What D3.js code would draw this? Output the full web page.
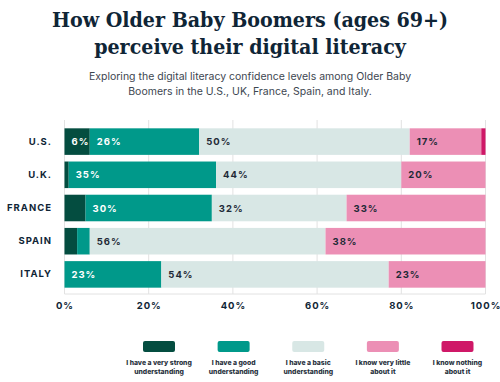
<!DOCTYPE html>
<html><head><meta charset="utf-8">
<script src="https://cdn.jsdelivr.net/npm/d3@7/dist/d3.min.js"></script>
<style>body{margin:0;background:#fff;}svg{display:block;}</style>
</head><body>
<svg id="chart" width="500" height="382"></svg>
<script>
const countries = ["U.S.", "U.K.", "FRANCE", "SPAIN", "ITALY"];
const seriesNames = ["I have a very strong understanding", "I have a good understanding", "I have a basic understanding", "I know very little about it", "I know nothing about it"];
const legendLines = [["I have a very strong", "understanding"], ["I have a good", "understanding"], ["I have a basic", "understanding"], ["I know very little", "about it"], ["I know nothing", "about it"]];
const veryStrong = [6, 1, 5, 3, 0];
const good = [26, 35, 30, 3, 23];
const basic = [50, 44, 32, 56, 54];
const veryLittle = [17, 20, 33, 38, 23];
const nothing = [1, 0, 0, 0, 0];
const xTicks = [0, 20, 40, 60, 80, 100];
const colors = ["#044d40", "#00998a", "#d8e7e5", "#ec8fb5", "#cf1867"];
const labelColors = ["#ffffff", "#ffffff", "#1f2a37", "#1f2a37", "#ffffff"];

const seriesData = [veryStrong, good, basic, veryLittle, nothing];
const rows = countries.map((c, i) => {
  const r = {country: c};
  seriesNames.forEach((s, j) => r[s] = seriesData[j][i]);
  return r;
});
const stack = d3.stack().keys(seriesNames)(rows);

const svg = d3.select("#chart");
const navy = "#0f2536";
const titleFont = "'DejaVu Serif Condensed', 'DejaVu Serif', serif";

svg.append("text").attr("x", 250).attr("y", 27).attr("text-anchor", "middle")
  .attr("font-family", titleFont).attr("font-weight", "bold").attr("font-size", 21.2)
  .attr("fill", navy).text("How Older Baby Boomers (ages 69+)");
svg.append("text").attr("x", 250).attr("y", 54).attr("text-anchor", "middle")
  .attr("font-family", titleFont).attr("font-weight", "bold").attr("font-size", 21.2)
  .attr("fill", navy).text("perceive their digital literacy");
svg.append("text").attr("x", 250).attr("y", 80).attr("text-anchor", "middle")
  .attr("font-family", "Inter").attr("font-size", 10.5).attr("fill", "#3d4650")
  .text("Exploring the digital literacy confidence levels among Older Baby");
svg.append("text").attr("x", 250).attr("y", 95).attr("text-anchor", "middle")
  .attr("font-family", "Inter").attr("font-size", 10.5).attr("fill", "#3d4650")
  .text("Boomers in the U.S., UK, France, Spain, and Italy.");

const x = d3.scaleLinear().domain([0, 100]).range([64.5, 485.5]);
const y = d3.scaleBand().domain(countries).range([125, 291]).paddingInner(0.2).paddingOuter(0.1);

// gridlines
const g = svg.append("g");
g.selectAll("line.grid").data(xTicks).join("line")
  .attr("x1", d => x(d)).attr("x2", d => x(d)).attr("y1", 120).attr("y2", 294)
  .attr("stroke", "#e2e2e2").attr("stroke-width", 1);
g.append("line").attr("x1", x(0)).attr("x2", x(100)).attr("y1", 294).attr("y2", 294)
  .attr("stroke", "#e2e2e2");

// x axis
const xAxis = d3.axisBottom(x).tickValues(xTicks).tickFormat(d => d + "%").tickSize(0).tickPadding(0);
const ax = svg.append("g").attr("transform", "translate(0,302)").call(xAxis);
ax.select(".domain").remove();
ax.selectAll("text").attr("font-family", "Inter").attr("font-weight", "bold").attr("font-size", 9.5)
  .attr("letter-spacing", 1).attr("fill", navy);

// y axis
const yAxis = d3.axisLeft(y).tickSize(0).tickPadding(0);
const ay = svg.append("g").attr("transform", "translate(52,0)").call(yAxis);
ay.select(".domain").remove();
ay.selectAll("text").attr("font-family", "Inter").attr("font-weight", "bold").attr("font-size", 9.5)
  .attr("letter-spacing", 1).attr("fill", navy);

// bars
const layers = svg.append("g").selectAll("g").data(stack).join("g")
  .attr("fill", (d, i) => colors[i]);
layers.selectAll("rect").data(d => d).join("rect")
  .attr("x", d => x(d[0])).attr("width", d => x(d[1]) - x(d[0]))
  .attr("y", d => y(d.data.country)).attr("height", y.bandwidth());

// value labels
const lab = svg.append("g");
stack.forEach((layer, i) => {
  layer.forEach(d => {
    const v = d[1] - d[0];
    if (v >= 6) {
      lab.append("text").attr("x", x(d[0]) + 7).attr("y", y(d.data.country) + y.bandwidth() / 2 + 3.5)
        .attr("font-family", "Inter").attr("font-weight", "bold").attr("font-size", 9.5)
        .attr("letter-spacing", 1).attr("fill", labelColors[i]).text(v + "%");
    }
  });
});

// legend
const lx = d3.scalePoint().domain(seriesNames).range([159, 457.5]);
const lg = svg.append("g");
seriesNames.forEach((s, i) => {
  lg.append("rect").attr("x", lx(s) - 16).attr("y", 341).attr("width", 32).attr("height", 11)
    .attr("rx", 2).attr("fill", colors[i]);
  legendLines[i].forEach((t, k) => {
    lg.append("text").attr("x", lx(s)).attr("y", 365 + k * 8.5).attr("text-anchor", "middle")
      .attr("font-family", "Inter").attr("font-weight", "800").attr("font-size", 6.8)
      .attr("fill", "#2a3340").text(t);
  });
});
</script>
</body></html>
